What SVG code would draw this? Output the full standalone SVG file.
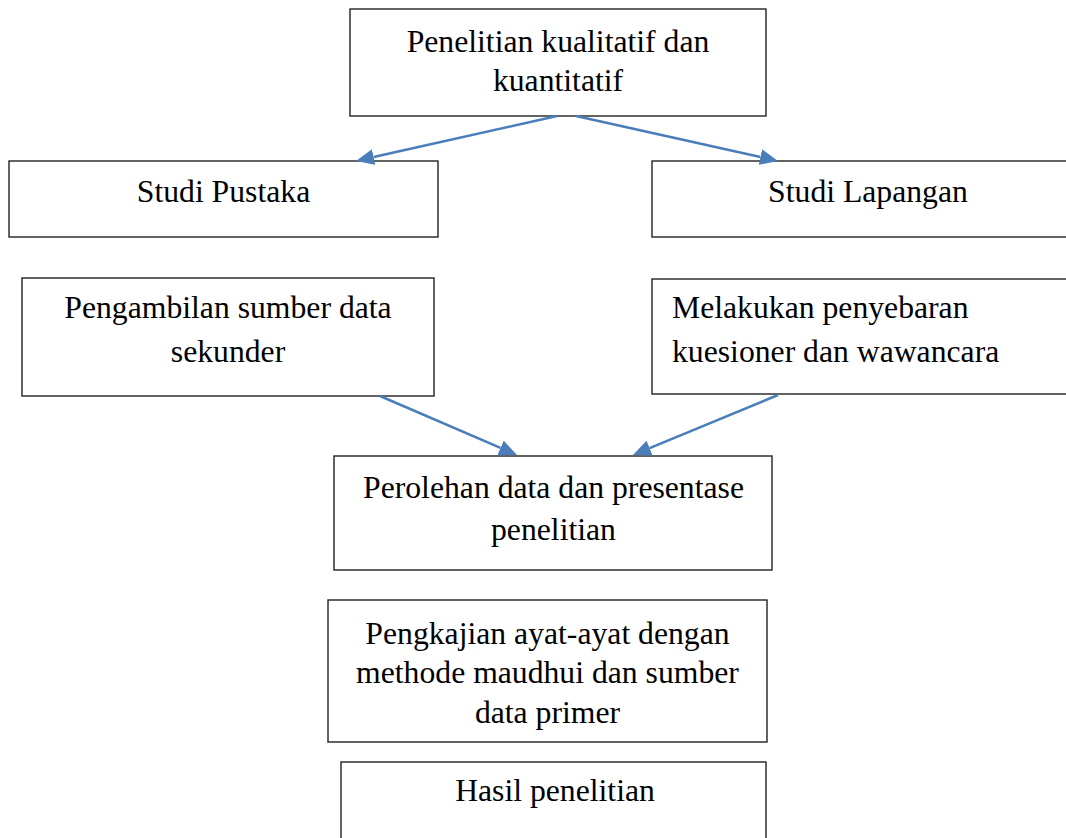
<svg xmlns="http://www.w3.org/2000/svg" width="1066" height="838" viewBox="0 0 1066 838">
<style>
.box{fill:#fff;stroke:#222;stroke-width:1.4}
.t{font-family:"Liberation Serif","Times New Roman",serif;font-size:31.7px;fill:#000}
.c{text-anchor:middle}
.conn{stroke:#4a7ebb;stroke-width:2.6;fill:none}
</style>
<defs>
<marker id="ah" markerUnits="userSpaceOnUse" markerWidth="18" markerHeight="16" viewBox="0 0 18 16" refX="0" refY="8" orient="auto">
<path d="M0,0 L18,8 L0,16 z" fill="#4a7ebb"/>
</marker>
</defs>
<rect width="1066" height="838" fill="#fff"/>
<g id="n1"><rect class="box" x="350" y="9" width="416" height="107"/>
<text class="t c" x="558" y="52">Penelitian kualitatif dan</text>
<text class="t c" x="558" y="91">kuantitatif</text></g>
<g id="n2"><rect class="box" x="9" y="161" width="429" height="76"/>
<text class="t c" x="223.5" y="202">Studi Pustaka</text></g>
<g id="n3"><rect class="box" x="652" y="161" width="432" height="76"/>
<text class="t c" x="868" y="202">Studi Lapangan</text></g>
<g id="n4"><rect class="box" x="22" y="278" width="412" height="118"/>
<text class="t c" x="228" y="318">Pengambilan sumber data</text>
<text class="t c" x="228" y="362">sekunder</text></g>
<g id="n5"><rect class="box" x="652" y="279" width="432" height="115"/>
<text class="t" x="672" y="318">Melakukan penyebaran</text>
<text class="t" x="672" y="362">kuesioner dan wawancara</text></g>
<g id="n6"><rect class="box" x="334" y="456" width="438" height="114"/>
<text class="t c" x="553.5" y="498">Perolehan data dan presentase</text>
<text class="t c" x="553.5" y="540">penelitian</text></g>
<g id="n7"><rect class="box" x="328" y="600" width="439" height="142"/>
<text class="t c" x="547.5" y="644">Pengkajian ayat-ayat dengan</text>
<text class="t c" x="547.5" y="683">methode maudhui dan sumber</text>
<text class="t c" x="547.5" y="723">data primer</text></g>
<g id="n8"><rect class="box" x="341" y="762" width="425" height="100"/>
<text class="t c" x="555" y="801">Hasil penelitian</text></g>
<g id="connectors">
<line class="conn" x1="557" y1="116" x2="373.6" y2="157.1" marker-end="url(#ah)"/>
<line class="conn" x1="576" y1="116" x2="760.4" y2="157.1" marker-end="url(#ah)"/>
<line class="conn" x1="380" y1="396" x2="500.5" y2="447.9" marker-end="url(#ah)"/>
<line class="conn" x1="778" y1="395" x2="649.6" y2="448.1" marker-end="url(#ah)"/>
</g>
</svg>
